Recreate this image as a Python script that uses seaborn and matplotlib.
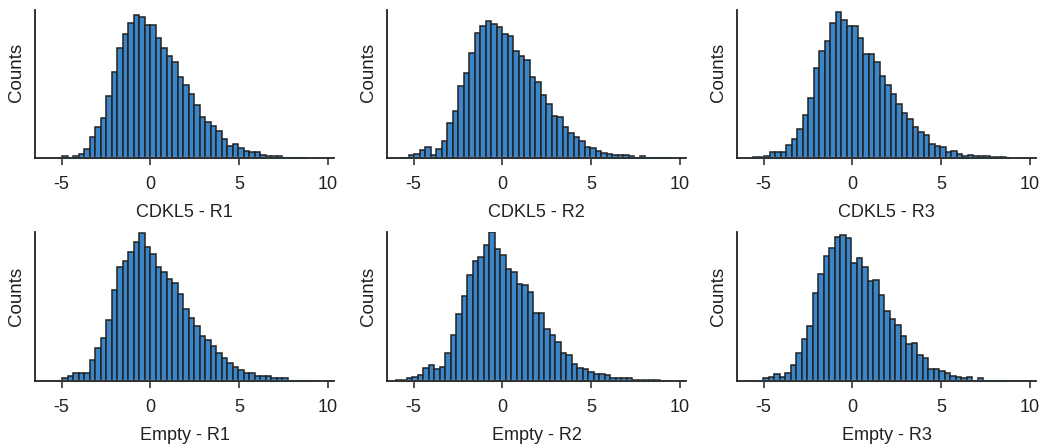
import numpy as np
import pandas as pd
import matplotlib
matplotlib.use("Agg")
import matplotlib.pyplot as plt
import seaborn as sns

sns.set_theme(style="ticks")
plt.rcParams["font.family"] = ["Liberation Sans", "DejaVu Sans"]

# Panel titles (x-axis labels)
labels = ["CDKL5 - R1", "CDKL5 - R2", "CDKL5 - R3",
          "Empty - R1", "Empty - R2", "Empty - R3"]

# Histogram bin width shared by all panels, and the left edge of each panel's first bin
bin_width = 0.31
first_edge = [-4.96, -5.27, -5.58, -4.96, -6.00, -5.03]

# Bin counts per panel
counts_cdkl5_r1 = [7, 0, 7, 13, 28, 63, 92, 119, 187, 258, 330, 373, 405, 430, 423, 400,
                   400, 360, 330, 307, 288, 245, 218, 192, 160, 123, 107, 95, 80, 58, 36,
                   41, 31, 21, 18, 18, 8, 5, 5, 5]
counts_cdkl5_r2 = [8, 12, 25, 33, 10, 28, 52, 105, 140, 215, 255, 317, 375, 398, 412, 402,
                   393, 372, 368, 323, 308, 295, 243, 228, 190, 162, 127, 122, 92, 75, 62,
                   50, 33, 30, 22, 15, 12, 10, 10, 8, 5, 0, 5]
counts_cdkl5_r3 = [2, 2, 7, 17, 17, 17, 39, 57, 87, 130, 180, 270, 322, 353, 407, 438, 415,
                   398, 398, 362, 313, 313, 290, 247, 220, 192, 162, 135, 117, 94, 77, 69,
                   42, 37, 32, 17, 22, 12, 7, 10, 7, 7, 7, 2, 2, 2]
counts_empty_r1 = [10, 15, 23, 23, 23, 63, 98, 128, 183, 273, 341, 358, 384, 414, 441, 401,
                   379, 339, 326, 304, 294, 259, 214, 187, 164, 134, 121, 104, 83, 70, 53,
                   41, 33, 25, 23, 16, 16, 15, 10, 8, 8]
counts_empty_r2 = [2, 2, 8, 12, 18, 40, 48, 35, 42, 85, 138, 201, 254, 316, 358, 369, 406,
                   446, 393, 376, 334, 326, 289, 286, 266, 204, 204, 156, 138, 116, 85, 78,
                   52, 38, 35, 28, 22, 20, 18, 8, 8, 8, 8, 3, 3, 3, 3, 3]
counts_empty_r3 = [8, 12, 20, 12, 25, 48, 84, 124, 164, 263, 321, 374, 396, 431, 436, 428,
                   351, 366, 339, 299, 303, 258, 208, 186, 168, 134, 111, 112, 78, 68, 35,
                   35, 30, 25, 15, 12, 8, 12, 0, 8]

all_counts = [counts_cdkl5_r1, counts_cdkl5_r2, counts_cdkl5_r3,
              counts_empty_r1, counts_empty_r2, counts_empty_r3]

# Full range of the observed values in each panel
range_lo = [-5.25, -5.85, -5.60, -5.20, -5.95, -5.60]
range_hi = [8.90, 9.50, 8.90, 9.10, 9.10, 8.80]

xticks = [-5, 0, 5, 10]

W, H = 1047, 444
fig = plt.figure(figsize=(W / 100, H / 100), dpi=100)

col_left = [35, 387, 737]
ax_w = 299
row_top = [10, 232]
row_bottom = [158, 381]

bar_color = "#3A86C8"
edge_color = "#222222"

for i, (lab, counts) in enumerate(zip(labels, all_counts)):
    r, c = divmod(i, 3)
    left = col_left[c] / W
    bottom = 1 - row_bottom[r] / H
    height = (row_bottom[r] - row_top[r]) / H
    ax = fig.add_axes([left, bottom, ax_w / W, height])

    n = len(counts)
    edges = first_edge[i] + bin_width * np.arange(n + 1)
    df = pd.DataFrame({"value": edges[:-1] + bin_width / 2, "count": counts})
    sns.histplot(data=df, x="value", weights="count", bins=list(edges), ax=ax,
                 color=bar_color, edgecolor=edge_color, linewidth=1.1, alpha=1.0)

    # Faint trace marking the full data range along the baseline
    ax.plot([range_lo[i], range_hi[i]], [0, 0], color="#A9D6EC", lw=1.6,
            solid_capstyle="butt", zorder=1.5, clip_on=False)

    ax.set_xlim(-6.5, 10.35)
    ax.set_ylim(0, 445)
    ax.set_xticks(xticks)
    ax.set_xticklabels([str(t) for t in xticks])
    ax.set_yticks([])
    ax.set_xlabel(lab, fontsize=13, labelpad=8, color="#222222")
    ax.set_ylabel("Counts", fontsize=13.5, color="#222222")
    ax.yaxis.set_label_coords(-0.035, 0.58 if r == 0 else 0.567)
    ax.tick_params(axis="x", length=5, width=1.1, pad=8, labelsize=13,
                   colors="#222222", direction="out")
    for s in ["left", "bottom"]:
        ax.spines[s].set_linewidth(1.3)
        ax.spines[s].set_color("#222222")
    sns.despine(ax=ax)

fig.savefig("out.png", dpi=100)
